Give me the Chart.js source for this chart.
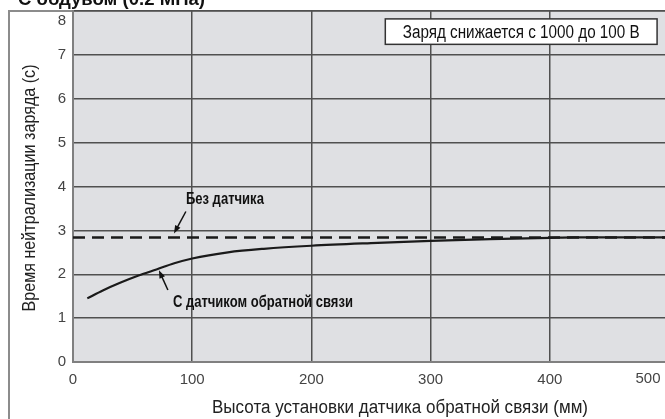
<!doctype html>
<html lang="ru">
<head>
<meta charset="utf-8">
<title>Время нейтрализации заряда</title>
<script src="https://cdn.jsdelivr.net/npm/chart.js@4.4.1/dist/chart.umd.min.js"></script>
<style>
  html, body { margin: 0; padding: 0; background: #fff; overflow: hidden; }
  #wrap { width: 700px; height: 419px; }
</style>
</head>
<body>
<div id="wrap"><canvas id="chart"></canvas></div>
<script>
// values
var heights = [12, 25, 40, 55, 70, 85, 100, 130, 160, 200, 250, 300, 350, 400, 420, 500];
var withSensor = [1.45, 1.63, 1.81, 1.97, 2.11, 2.25, 2.36, 2.50, 2.58, 2.65, 2.71, 2.76, 2.80, 2.83, 2.84, 2.84];
var noSensorX = [0, 500];
var noSensorY = [2.84, 2.84];
var xTicks = [0, 100, 200, 300, 400, 500];
var yTicks = [0, 1, 2, 3, 4, 5, 6, 7, 8];

var title = 'С обдувом (0.2 МПа)';
var xTitle = 'Высота установки датчика обратной связи (мм)';
var yTitle = 'Время нейтрализации заряда (с)';
var noteText = 'Заряд снижается с 1000 до 100 В';
var labelNo = 'Без датчика';
var labelWith = 'С датчиком обратной связи';

function pts(xs, ys) {
    return xs.map(function (x, i) { return { x: x, y: ys[i] }; });
}

var sans = '"Liberation Sans", Arial, sans-serif';

// draw text squeezed to a given width (the original uses a condensed face)
function fitText(c, text, x, y, width, align) {
    var w = c.measureText(text).width;
    var k = width / w;
    c.save();
    c.translate(x, y);
    c.scale(k, 1);
    c.textAlign = align || 'center';
    c.fillText(text, 0, 0);
    c.restore();
}

var decor = {
    id: 'decor',
    beforeDraw: function (chart) {
        var c = chart.ctx, a = chart.chartArea;
        c.save();
        c.fillStyle = '#dfe0e3';
        c.fillRect(a.left, a.top, a.right - a.left, a.bottom - a.top);
        c.strokeStyle = '#8c8c8c';
        c.lineWidth = 2;
        c.strokeRect(9, a.top, 800, 600);
        c.restore();
    },
    afterDraw: function (chart) {
        var c = chart.ctx, a = chart.chartArea;
        var xs = chart.scales.x, ys = chart.scales.y;
        c.save();

        // title, cut at the top
        c.fillStyle = '#111';
        c.font = 'bold 18px ' + sans;
        c.textBaseline = 'alphabetic';
        fitText(c, title, 18, 5, 187, 'left');

        // end tick labels that the original keeps inside the frame
        c.fillStyle = '#444';
        c.font = '15px ' + sans;
        c.textAlign = 'right';
        c.textBaseline = 'middle';
        c.fillText('8', a.left - 7, ys.getPixelForValue(8) + 10);
        c.textAlign = 'center';
        c.fillText('500', xs.getPixelForValue(500) - 21, a.bottom + 17);

        // axis titles
        c.fillStyle = '#222';
        c.font = '18px ' + sans;
        fitText(c, xTitle, 400, 408, 376);
        c.save();
        c.translate(30, 188);
        c.rotate(-Math.PI / 2);
        c.font = '18px ' + sans;
        fitText(c, yTitle, 0, 0, 247);
        c.restore();

        // note box
        var bx = xs.getPixelForValue(262), bx2 = xs.getPixelForValue(490);
        var by = ys.getPixelForValue(7.82), by2 = ys.getPixelForValue(7.24);
        c.fillStyle = '#fff';
        c.fillRect(bx, by, bx2 - bx, by2 - by);
        c.strokeStyle = '#333';
        c.lineWidth = 1.5;
        c.strokeRect(bx, by, bx2 - bx, by2 - by);
        c.fillStyle = '#111';
        c.font = '18px ' + sans;
        fitText(c, noteText, (bx + bx2) / 2, (by + by2) / 2 + 1, 237);

        // curve labels
        c.font = 'bold 16px ' + sans;
        fitText(c, labelNo, xs.getPixelForValue(94.7), ys.getPixelForValue(3.70), 78, 'left');
        fitText(c, labelWith, xs.getPixelForValue(83.8), ys.getPixelForValue(1.36), 180, 'left');

        arrow(c, xs.getPixelForValue(94.7), ys.getPixelForValue(3.43), xs.getPixelForValue(84.7), ys.getPixelForValue(2.93));
        arrow(c, xs.getPixelForValue(79.6), ys.getPixelForValue(1.64), xs.getPixelForValue(72.1), ys.getPixelForValue(2.09));
        c.restore();
    }
};

function arrow(c, x1, y1, x2, y2) {
    var ang = Math.atan2(y2 - y1, x2 - x1);
    var ca = Math.cos(ang), sa = Math.sin(ang);
    c.strokeStyle = '#111';
    c.fillStyle = '#111';
    c.lineWidth = 1.5;
    c.beginPath();
    c.moveTo(x1, y1);
    c.lineTo(x2 - 5 * ca, y2 - 5 * sa);
    c.stroke();
    c.beginPath();
    c.moveTo(x2, y2);
    c.lineTo(x2 - 8 * ca + 3 * sa, y2 - 8 * sa - 3 * ca);
    c.lineTo(x2 - 8 * ca - 3 * sa, y2 - 8 * sa + 3 * ca);
    c.closePath();
    c.fill();
}

new Chart(document.getElementById('chart'), {
    type: 'line',
    data: {
        datasets: [{
            label: labelNo,
            data: pts(noSensorX, noSensorY),
            borderColor: '#1a1a1a',
            borderWidth: 2.5,
            borderDash: [12, 7],
            pointRadius: 0,
            fill: false
        }, {
            label: labelWith,
            data: pts(heights, withSensor),
            borderColor: '#1a1a1a',
            borderWidth: 2.2,
            pointRadius: 0,
            cubicInterpolationMode: 'monotone',
            fill: false
        }]
    },
    options: {
        responsive: true,
        maintainAspectRatio: false,
        animation: false,
        layout: { padding: { top: 11, left: 0, right: 31, bottom: 0 } },
        plugins: {
            legend: { display: false },
            tooltip: { enabled: false }
        },
        scales: {
            x: {
                type: 'linear',
                min: 0,
                max: 500,
                afterBuildTicks: function (s) { s.ticks = xTicks.map(function (v) { return { value: v }; }); },
                afterFit: function (s) { s.height = 57; s.paddingLeft = 0; s.paddingRight = 0; },
                grid: { color: '#505050', lineWidth: 1.5, drawTicks: false },
                border: { color: '#808080', width: 2 },
                ticks: {
                    color: '#444',
                    padding: 9,
                    font: { family: sans, size: 15 },
                    callback: function (v) { return v === 500 ? '' : v; }
                }
            },
            y: {
                min: 0,
                max: 8,
                afterBuildTicks: function (s) { s.ticks = yTicks.map(function (v) { return { value: v }; }); },
                afterFit: function (s) { s.width = 73; s.paddingTop = 0; s.paddingBottom = 0; },
                grid: { color: '#505050', lineWidth: 1.5, drawTicks: false },
                border: { color: '#808080', width: 2 },
                ticks: {
                    color: '#444',
                    padding: 7,
                    font: { family: sans, size: 15 },
                    callback: function (v) { return v === 8 ? '' : v; }
                }
            }
        }
    },
    plugins: [decor]
});
</script>
</body>
</html>
